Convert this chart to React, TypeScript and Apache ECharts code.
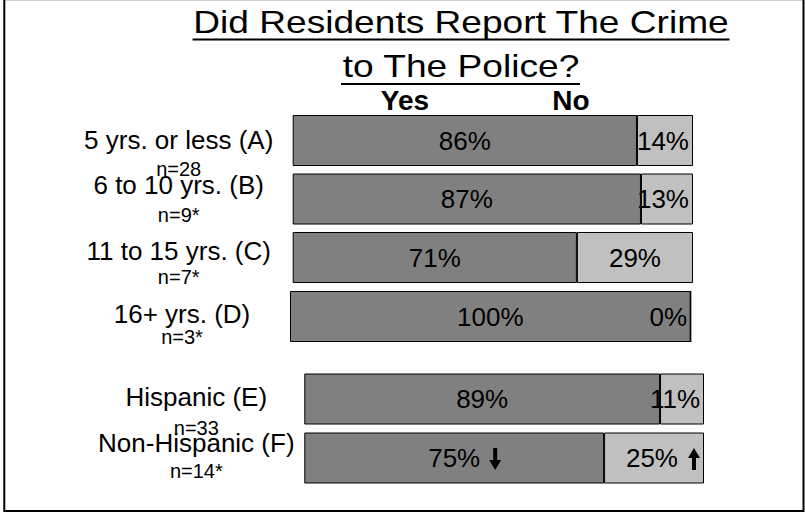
import React, { useEffect, useRef } from "react";
import * as echarts from "echarts";

// ---------- data ----------
const categories = [
  "5 yrs. or less (A)",
  "6 to 10 yrs. (B)",
  "11 to 15 yrs. (C)",
  "16+ yrs. (D)",
  "Hispanic (E)",
  "Non-Hispanic (F)",
];
const sampleSizes = ["n=28", "n=9*", "n=7*", "n=3*", "n=33", "n=14*"];
const yesValues = [86, 87, 71, 100, 89, 75];
const noValues = [14, 13, 29, 0, 11, 25];
// significance arrows: -1 = down, 1 = up, 0 = none
const yesTrend = [0, 0, 0, 0, 0, -1];
const noTrend = [0, 0, 0, 0, 0, 1];
const titleLines = ["Did Residents Report The Crime", "to The Police?"];
const headers = ["Yes", "No"];

// ---------- layout (not data) ----------
const rowGroup = [0, 0, 0, 1, 2, 2];
const grids = [
  { left: 292.7, top: 111.25, width: 400.3, height: 175.5, margin: 114 },
  { left: 290, top: 287.25, width: 400.7, height: 58.5, margin: 108 },
  { left: 304.3, top: 369.5, width: 399.7, height: 118, margin: 108 },
];
// line heights of the two label lines per row (main, n=)
const labelLines = [
  [57, 2],
  [32, 29],
  [38, 14],
  [40, 5],
  [57, 4],
  [26, 31],
];

const FONT = '"Liberation Sans", Arial, Helvetica, sans-serif';
const DARK = "#808080";
const LIGHT = "#c0c0c0";

function arrowPoints(cx: number, cy: number, dir: number): number[][] {
  const h = 11, shaft = 2, head = 6, headH = 10;
  if (dir < 0) {
    const y0 = cy - h, y1 = cy + h;
    return [[cx - shaft, y0], [cx + shaft, y0], [cx + shaft, y1 - headH], [cx + head, y1 - headH], [cx, y1], [cx - head, y1 - headH], [cx - shaft, y1 - headH]];
  }
  const y0 = cy + h, y1 = cy - h;
  return [[cx - shaft, y0], [cx + shaft, y0], [cx + shaft, y1 + headH], [cx + head, y1 + headH], [cx, y1], [cx - head, y1 + headH], [cx - shaft, y1 + headH]];
}

export default function App() {
  const ref = useRef<HTMLDivElement>(null);

  useEffect(() => {
    if (!ref.current) return;
    const chart = echarts.init(ref.current, undefined, { renderer: "svg" });

    const rich: Record<string, any> = {};
    categories.forEach((_, i) => {
      rich["a" + i] = { fontSize: 26, lineHeight: labelLines[i][0], align: "center", color: "#000", fontFamily: FONT };
      rich["n" + i] = { fontSize: 20, lineHeight: labelLines[i][1], align: "center", color: "#000", fontFamily: FONT };
    });

    const gridOpts: any[] = [];
    const xAxes: any[] = [];
    const yAxes: any[] = [];
    const series: any[] = [];

    grids.forEach((g, gi) => {
      const rows = categories.map((_, i) => i).filter((i) => rowGroup[i] === gi);
      gridOpts.push({ left: g.left, top: g.top, width: g.width, height: g.height, containLabel: false });
      xAxes.push({ type: "value", gridIndex: gi, min: 0, max: 100, show: false });
      yAxes.push({
        type: "category",
        gridIndex: gi,
        inverse: true,
        data: rows.map((i) => categories[i]),
        axisLine: { show: false },
        axisTick: { show: false },
        splitLine: { show: false },
        axisLabel: {
          interval: 0,
          align: "center",
          margin: g.margin,
          formatter: (value: string, idx: number) => {
            const i = rows[idx];
            return `{a${i}|${value}}\n{n${i}|${sampleSizes[i]}}`;
          },
          rich,
        },
      });

      const labelBase = { show: true, fontSize: 26, color: "#000", fontFamily: FONT, formatter: "{c}%" };

      series.push({
        type: "bar",
        name: "Yes",
        stack: "s" + gi,
        xAxisIndex: gi,
        yAxisIndex: gi,
        barWidth: 51,
        itemStyle: { color: DARK, borderColor: "#000", borderWidth: 1 },
        label: { ...labelBase, position: "inside" },
        data: rows.map((i) => yesValues[i]),
      });
      series.push({
        type: "bar",
        name: "No",
        stack: "s" + gi,
        xAxisIndex: gi,
        yAxisIndex: gi,
        barWidth: 51,
        itemStyle: { color: LIGHT, borderColor: "#000", borderWidth: 1 },
        label: { ...labelBase, position: "inside" },
        data: rows.map((i) => ({
          value: noValues[i],
          label: {
            position: noValues[i] < 20 || noTrend[i] ? "insideRight" : "inside",
            distance: noTrend[i] ? 26 : 4,
          },
        })),
      });
    });

    const graphic: any[] = [
      { id: "top", type: "line", shape: { x1: 4, y1: 0.5, x2: 803.5, y2: 0.5 }, style: { stroke: "#d0d0d0", lineWidth: 1 } },
      {
        id: "frame",
        type: "polyline",
        shape: { points: [[4.3, 0], [4.3, 511], [803.5, 511], [803.5, 0]] },
        style: { stroke: "#000", lineWidth: 2, fill: null },
      },
      {
        id: "t1",
        type: "text",
        x: 461,
        y: 21.5,
        scaleX: 1.16,
        style: { text: titleLines[0], fontSize: 32, fontFamily: FONT, fill: "#000", align: "center", verticalAlign: "middle" },
      },
      { id: "u1", type: "line", shape: { x1: 192.5, y1: 39.5, x2: 729.5, y2: 39.5 }, style: { stroke: "#000", lineWidth: 2 } },
      {
        id: "t2",
        type: "text",
        x: 461,
        y: 66,
        scaleX: 1.16,
        style: { text: titleLines[1], fontSize: 32, fontFamily: FONT, fill: "#000", align: "center", verticalAlign: "middle" },
      },
      { id: "u2", type: "line", shape: { x1: 341, y1: 84, x2: 580, y2: 84 }, style: { stroke: "#000", lineWidth: 2 } },
      {
        id: "h1",
        type: "text",
        x: 405,
        y: 100,
        style: { text: headers[0], fontSize: 28, fontWeight: "bold", fontFamily: FONT, fill: "#000", align: "center", verticalAlign: "middle" },
      },
      {
        id: "h2",
        type: "text",
        x: 571,
        y: 100,
        style: { text: headers[1], fontSize: 28, fontWeight: "bold", fontFamily: FONT, fill: "#000", align: "center", verticalAlign: "middle" },
      },
    ];

    chart.setOption({
      animation: false,
      backgroundColor: "#fff",
      textStyle: { fontFamily: FONT },
      grid: gridOpts,
      xAxis: xAxes,
      yAxis: yAxes,
      series,
      graphic,
    });

    // significance arrows placed through the axes' scales
    const arrows: any[] = [];
    categories.forEach((cat, i) => {
      const gi = rowGroup[i];
      const p0 = chart.convertToPixel({ gridIndex: gi }, [0, cat]) as number[];
      const pYes = chart.convertToPixel({ gridIndex: gi }, [yesValues[i], cat]) as number[];
      const pEnd = chart.convertToPixel({ gridIndex: gi }, [yesValues[i] + noValues[i], cat]) as number[];
      if (!p0 || !pYes || !pEnd) return;
      if (yesTrend[i]) {
        arrows.push({
          id: "ay" + i,
          type: "polygon",
          z: 100,
          shape: { points: arrowPoints((p0[0] + pYes[0]) / 2 + 41, p0[1] + 1, yesTrend[i]) },
          style: { fill: "#000" },
        });
      }
      if (noTrend[i]) {
        arrows.push({
          id: "an" + i,
          type: "polygon",
          z: 100,
          shape: { points: arrowPoints(pEnd[0] - 10, p0[1] + 1, noTrend[i]) },
          style: { fill: "#000" },
        });
      }
    });
    chart.setOption({ graphic: graphic.concat(arrows) });

    return () => chart.dispose();
  }, []);

  return (
    <div
      ref={ref}
      style={{ position: "absolute", left: 0, top: 0, width: 805, height: 516, background: "#fff" }}
    />
  );
}
